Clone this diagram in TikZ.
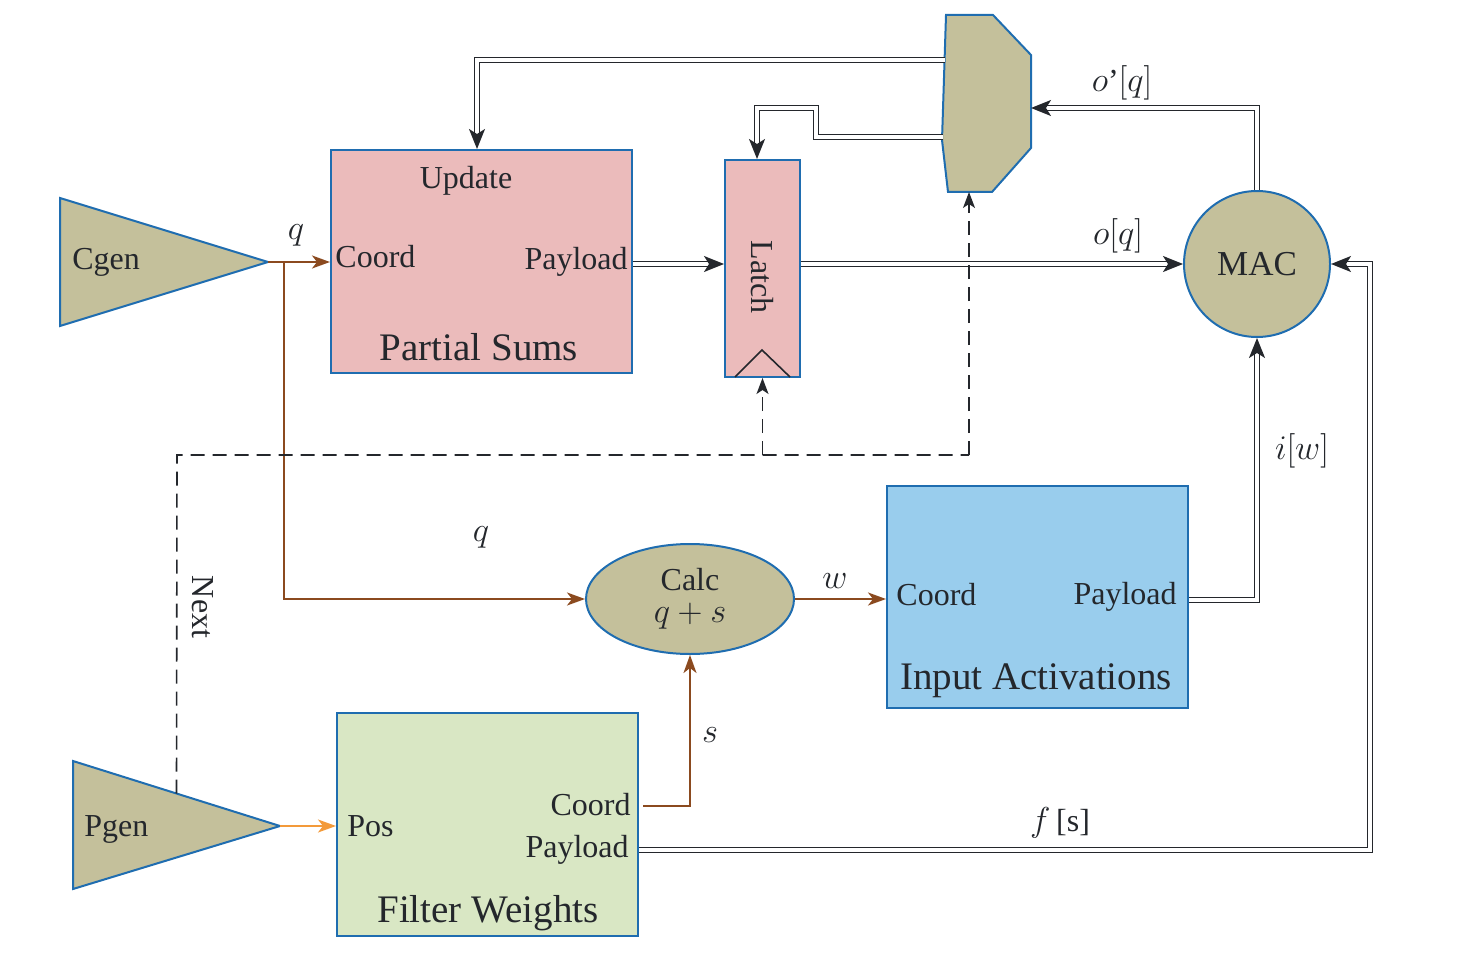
\documentclass[tikz,border=0pt]{standalone}
\usepackage{fontspec}
\setmainfont{Liberation Serif}
\usepackage{tikz}
\usetikzlibrary{arrows.meta,shapes.geometric,calc}
\definecolor{cOlive}{HTML}{C4C09B}
\definecolor{cBlue}{HTML}{1F6DB0}
\definecolor{cPink}{HTML}{EBBBBB}
\definecolor{cSky}{HTML}{99CDED}
\definecolor{cGreen}{HTML}{D9E7C4}
\definecolor{cBrown}{HTML}{8B4A1F}
\definecolor{cOrange}{HTML}{F39A3A}
\definecolor{cDark}{HTML}{24272C}
\begin{document}
\begin{tikzpicture}[x=0.5pt,y=-0.5pt,
  font=\fontsize{16}{19}\selectfont,
  box/.style={draw=cBlue, line width=1pt, inner sep=0pt},
  txt/.style={inner sep=0pt, text=cDark},
  big/.style={txt, font=\fontsize{19.5}{23}\selectfont},
  brw/.style={draw=cBrown, line width=1pt, -{Stealth[length=9pt,width=6.5pt,inset=2.5pt]}},
  org/.style={draw=cOrange, line width=1pt, -{Stealth[length=9pt,width=6.5pt,inset=2.5pt]}},
  dbl/.style={draw=cDark, line width=0.85pt, double=white, double distance=1.7pt, -{Stealth[length=10pt,width=8pt,inset=2.5pt]}},
  dsh/.style={draw=cDark, line width=0.8pt, dash pattern=on 7pt off 4pt, -{Stealth[length=8pt,width=6pt,inset=2pt]}},
  dshp/.style={draw=cDark, line width=0.8pt, dash pattern=on 7pt off 4pt}
]
\useasboundingbox (0,0) rectangle (1460,957);

% Cgen
\coordinate (cgenA) at (60,198);
\coordinate (cgenB) at (60,326);
\coordinate (cgen) at (268,262);
\filldraw[fill=cOlive, draw=cBlue, line width=1pt] (cgenA) -- (cgen) -- (cgenB) -- cycle;
\node[txt, anchor=west] (cgent) at (72,262) {Cgen};

% Pgen
\coordinate (pgenA) at (73,761);
\coordinate (pgenB) at (73,889);
\coordinate (pgen) at (280,826);
\filldraw[fill=cOlive, draw=cBlue, line width=1pt] (pgenA) -- (pgen) -- (pgenB) -- cycle;
\node[txt, anchor=west] (pgent) at (84,829) {Pgen};
\coordinate (pnext) at ($(pgenA)!0.5!(pgen)$);

% Partial Sums
\node[box, fill=cPink, minimum width=150.5pt, minimum height=111.5pt] (ps) at (481.5,261.5) {};
\node[txt] (psupd) at (466,181) {Update};
\node[txt, anchor=west] (pscoord) at (335,257) {Coord};
\node[txt, anchor=east] (pspay) at (628,262) {Payload};
\node[big] (pstitle) at (479,347) {Partial Sums};

% Latch
\node[box, fill=cPink, minimum width=37.5pt, minimum height=108.5pt] (latch) at (762.5,268.5) {};
\node[txt, rotate=-90] (latcht) at (762,277) {Latch};
\draw[cDark, line width=0.8pt] (735,377) -- (762,350) -- (790,377);

% Mux
\coordinate (mux1) at (946,15);
\coordinate (mux2) at (993,15);
\coordinate (mux3) at (1031,55);
\coordinate (mux4) at (1031,148);
\coordinate (mux5) at (992,192);
\coordinate (mux6) at (948,192);
\coordinate (mux7) at (942,140);
\filldraw[fill=cOlive, draw=cBlue, line width=1pt] (mux1) -- (mux2) -- (mux3) -- (mux4) -- (mux5) -- (mux6) -- (mux7) -- cycle;
\coordinate (muxr) at (1031,108);
\coordinate (muxl1) at (945,60);
\coordinate (muxl2) at (943,137);
\coordinate (muxb) at (969,192);

% MAC
\node[box, circle, fill=cOlive, minimum size=73pt, font=\fontsize{17.5}{21}\selectfont, text=cDark] (mac) at (1257,264) {MAC};

% Calc
\node[box, ellipse, fill=cOlive, minimum width=104pt, minimum height=55pt, align=center, text=cDark] (calc) at (690,599) {Calc\\[-3pt]$q+s$};

% Input Activations
\node[box, fill=cSky, minimum width=150.5pt, minimum height=111pt] (ia) at (1037.5,597) {};
\node[txt, anchor=west] (iacoord) at (896,595) {Coord};
\node[txt, anchor=east] (iapay) at (1177,597) {Payload};
\node[big] (iatitle) at (1036,681) {Input Activations};

% Filter Weights
\node[box, fill=cGreen, minimum width=150.5pt, minimum height=111.5pt] (fw) at (487.5,824.5) {};
\node[txt, anchor=west] (fwpos) at (347,826) {Pos};
\node[txt, anchor=east] (fwcoord) at (631,805) {Coord};
\node[txt, anchor=east] (fwpay) at (629,850) {Payload};
\node[big] (fwtitle) at (488,913) {Filter Weights};

% brown / orange connectors
\coordinate (qsplit) at (284,262);
\draw[brw] (cgen) -- (cgen -| ps.west);
\draw[brw] (qsplit) -- (qsplit |- calc.west) -- (calc.west);
\draw[brw] (calc.east) -- (calc.east -| ia.west);
\coordinate (fwc) at (643,806);
\draw[brw] (fwc) -- (calc.south |- fwc) -- (calc.south);
\draw[org] (pgen) -- (pgen -| fw.west);

% double connectors
\draw[dbl] (ps.east |- 0,264) -- (latch.west |- 0,264);
\draw[dbl] (latch.east |- 0,264) -- (mac.west);
\draw[dbl] (mac.north) -- (1257,108) -- (muxr);
\draw[dbl] (muxl1) -- (477,60) -- ([xshift=-2.25pt]ps.north);
\draw[dbl] (muxl2) -- (816,137) -- (816,108) -- (757,108) -- ([xshift=-2.75pt]latch.north);
\draw[dbl] (ia.east |- 0,600) -- (1257,600) -- (mac.south);
\draw[dbl] (fw.east |- 0,850) -- (1370,850) -- (1370,264) -- (mac.east);

% dashed
\coordinate (dcorner) at (177,455);
\draw[dshp] (pnext) -- (dcorner) -- (969,455);
\draw[dsh] (969,455) -- (muxb);
\draw[dsh] (latch.south |- dcorner) -- (latch.south);

% labels
\node[txt] (lq1) at (296,235) {$q$};
\node[txt] (lq2) at (481,537) {$q$};
\node[txt] (lw) at (835,581) {$w$};
\node[txt] (ls) at (710,735) {$s$};
\node[txt] (loq) at (1118,236) {$o[q]$};
\node[txt] (lopq) at (1122,83) {$o$'$[q]$};
\node[txt] (liw) at (1302,451) {$i[w]$};
\node[txt] (lfs) at (1060,823) {$f\,$[s]};
\node[txt, rotate=-90] (lnext) at (203,607) {Next};
\end{tikzpicture}
\end{document}
